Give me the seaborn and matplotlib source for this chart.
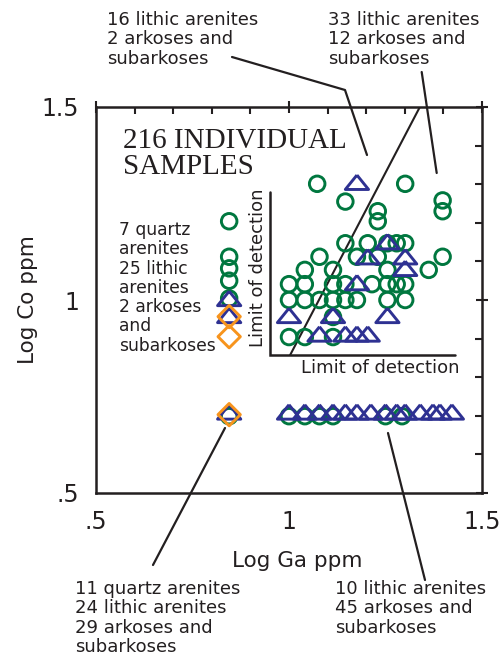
import numpy as np
import pandas as pd
import matplotlib
matplotlib.use("Agg")
import matplotlib.pyplot as plt
import seaborn as sns
from matplotlib.lines import Line2D
from matplotlib.ticker import FixedLocator

# ---- data (log10 ppm) ----
circle_ga = [0.845, 0.845, 0.845, 0.845, 0.845, 0.845,
             1.073, 1.301, 1.146, 1.398, 1.398, 1.230, 1.230,
             1.146, 1.204, 1.255, 1.279, 1.301,
             1.079, 1.176, 1.230, 1.398,
             1.041, 1.114, 1.255, 1.362,
             1.000, 1.041, 1.114, 1.146, 1.215, 1.255, 1.279, 1.301,
             1.000, 1.041, 1.079, 1.114, 1.146, 1.176, 1.255, 1.301,
             1.114, 1.000, 1.041, 1.114,
             1.000, 1.041, 1.079, 1.114, 1.250, 1.293]
circle_co = [1.204, 1.112, 1.082, 1.050, 1.004, 0.699,
             1.301, 1.301, 1.255, 1.258, 1.230, 1.230, 1.204,
             1.147, 1.147, 1.147, 1.147, 1.147,
             1.112, 1.112, 1.112, 1.112,
             1.078, 1.078, 1.078, 1.078,
             1.041, 1.041, 1.041, 1.041, 1.041, 1.041, 1.041, 1.041,
             1.000, 1.000, 1.000, 1.000, 1.000, 1.000, 1.000, 1.000,
             0.956, 0.904, 0.904, 0.904,
             0.699, 0.699, 0.699, 0.699, 0.699, 0.699]

tri_ga = [1.176, 1.204, 1.255, 1.301, 1.301, 1.176,
          1.000, 1.114, 1.255, 1.079, 1.146, 1.176, 1.204,
          0.845, 0.845, 0.845,
          1.000, 1.041, 1.079, 1.114, 1.146, 1.176, 1.212, 1.250,
          1.279, 1.301, 1.340, 1.373, 1.391, 1.422]
tri_co = [1.305, 1.112, 1.151, 1.112, 1.082, 1.045,
          0.960, 0.960, 0.960, 0.912, 0.912, 0.912, 0.912,
          1.004, 0.960, 0.710,
          0.710, 0.710, 0.710, 0.710, 0.710, 0.710, 0.710, 0.710,
          0.710, 0.710, 0.710, 0.710, 0.710, 0.710]

dia_ga = [0.845, 0.845, 0.845]
dia_co = [0.957, 0.905, 0.703]

xticks = [0.5, 1.0, 1.5]
xtick_labels = [".5", "1", "1.5"]
yticks = [0.5, 1.0, 1.5]
ytick_labels = [".5", "1", "1.5"]

GREEN = "#00773F"
BLUE = "#2E3192"
ORANGE = "#F7941D"
INK = "#231F20"

sns.set_style("white")
plt.rcParams["font.family"] = ["DejaVu Sans"]

W, H = 503, 656
fig = plt.figure(figsize=(W / 100, H / 100), dpi=100)
ax = fig.add_axes([96 / W, 1 - 493 / H, 386 / W, 386 / H])

circ = pd.DataFrame({"ga": circle_ga, "co": circle_co})
tri = pd.DataFrame({"ga": tri_ga, "co": tri_co})
dia = pd.DataFrame({"ga": dia_ga, "co": dia_co})

tri_marker = [(0, 0.62), (-1, -0.62), (1, -0.62), (0, 0.62)]

sns.scatterplot(data=circ, x="ga", y="co", marker="o", s=125,
                facecolor="none", edgecolor=GREEN, linewidth=2.1, ax=ax, zorder=3)
sns.scatterplot(data=tri, x="ga", y="co", marker=tri_marker, s=280,
                facecolor="none", edgecolor=BLUE, linewidth=2.1, ax=ax, zorder=4)
sns.scatterplot(data=dia, x="ga", y="co", marker="D", s=130,
                facecolor="none", edgecolor=ORANGE, linewidth=2.1, ax=ax, zorder=5)

# detection limit guides
ax.plot([0.951, 0.951, 1.430], [1.280, 0.8575, 0.8575], color=INK, lw=1.8,
        solid_joinstyle="miter", zorder=2)
ax.plot([1.339, 1.003], [1.5, 0.8575], color=INK, lw=1.5, zorder=2)

ax.set_xlim(0.5, 1.5)
ax.set_ylim(0.5, 1.5)
minor = np.round(np.arange(0.5, 1.51, 0.1), 2)
ax.xaxis.set_major_locator(FixedLocator(xticks))
ax.yaxis.set_major_locator(FixedLocator(yticks))
ax.xaxis.set_minor_locator(FixedLocator(minor))
ax.yaxis.set_minor_locator(FixedLocator(minor))
ax.set_xticklabels(xtick_labels)
ax.set_yticklabels(ytick_labels)
ax.tick_params(which="both", direction="in", top=True, right=True,
               length=5, width=1.5, color=INK)
ax.tick_params(which="major", direction="inout", length=8, pad=8,
               labelsize=17, labelcolor=INK)
for s in ax.spines.values():
    s.set_linewidth(1.8)
    s.set_color(INK)
    s.set_visible(True)
ax.set_xlabel("")
ax.set_ylabel("")


def fx(px):
    return px / W


def fy(py):
    return 1 - py / H


fig.text(fx(297), fy(567), "Log Ga ppm", ha="center", va="baseline",
         fontsize=15.5, color=INK)
fig.text(fx(28), fy(300), "Log Co ppm", ha="center", va="center",
         rotation=90, fontsize=15.5, color=INK)

fig.text(fx(123), fy(128), "216 INDIVIDUAL\nSAMPLES", ha="left", va="top",
         fontsize=21, family="Liberation Serif", color=INK, linespacing=1.02)

LS = 1.09
fig.text(fx(119), fy(221),
         "7 quartz\narenites\n25 lithic\narenites\n2 arkoses\nand\nsubarkoses",
         ha="left", va="top", fontsize=12.3, color=INK, linespacing=LS)
fig.text(fx(380), fy(373), "Limit of detection", ha="center", va="baseline",
         fontsize=13, color=INK)
fig.text(fx(258), fy(268), "Limit of detection", ha="center", va="center",
         rotation=90, fontsize=13, color=INK)

fig.text(fx(107), fy(11), "16 lithic arenites\n2 arkoses and\nsubarkoses",
         ha="left", va="top", fontsize=13, color=INK, linespacing=LS)
fig.text(fx(328), fy(11), "33 lithic arenites\n12 arkoses and\nsubarkoses",
         ha="left", va="top", fontsize=13, color=INK, linespacing=LS)
fig.text(fx(75), fy(580),
         "11 quartz arenites\n24 lithic arenites\n29 arkoses and\nsubarkoses",
         ha="left", va="top", fontsize=13, color=INK, linespacing=LS)
fig.text(fx(335), fy(580), "10 lithic arenites\n45 arkoses and\nsubarkoses",
         ha="left", va="top", fontsize=13, color=INK, linespacing=LS)


def leader(pts):
    xs = [fx(p[0]) for p in pts]
    ys = [fy(p[1]) for p in pts]
    fig.add_artist(Line2D(xs, ys, transform=fig.transFigure, color=INK,
                          lw=1.6, zorder=6))


leader([(232, 57), (345, 90), (367, 155)])
leader([(421.7, 72), (436.7, 173)])
leader([(225, 428), (153, 565)])
leader([(388, 433), (425, 580)])

fig.savefig("out.png", dpi=100)
